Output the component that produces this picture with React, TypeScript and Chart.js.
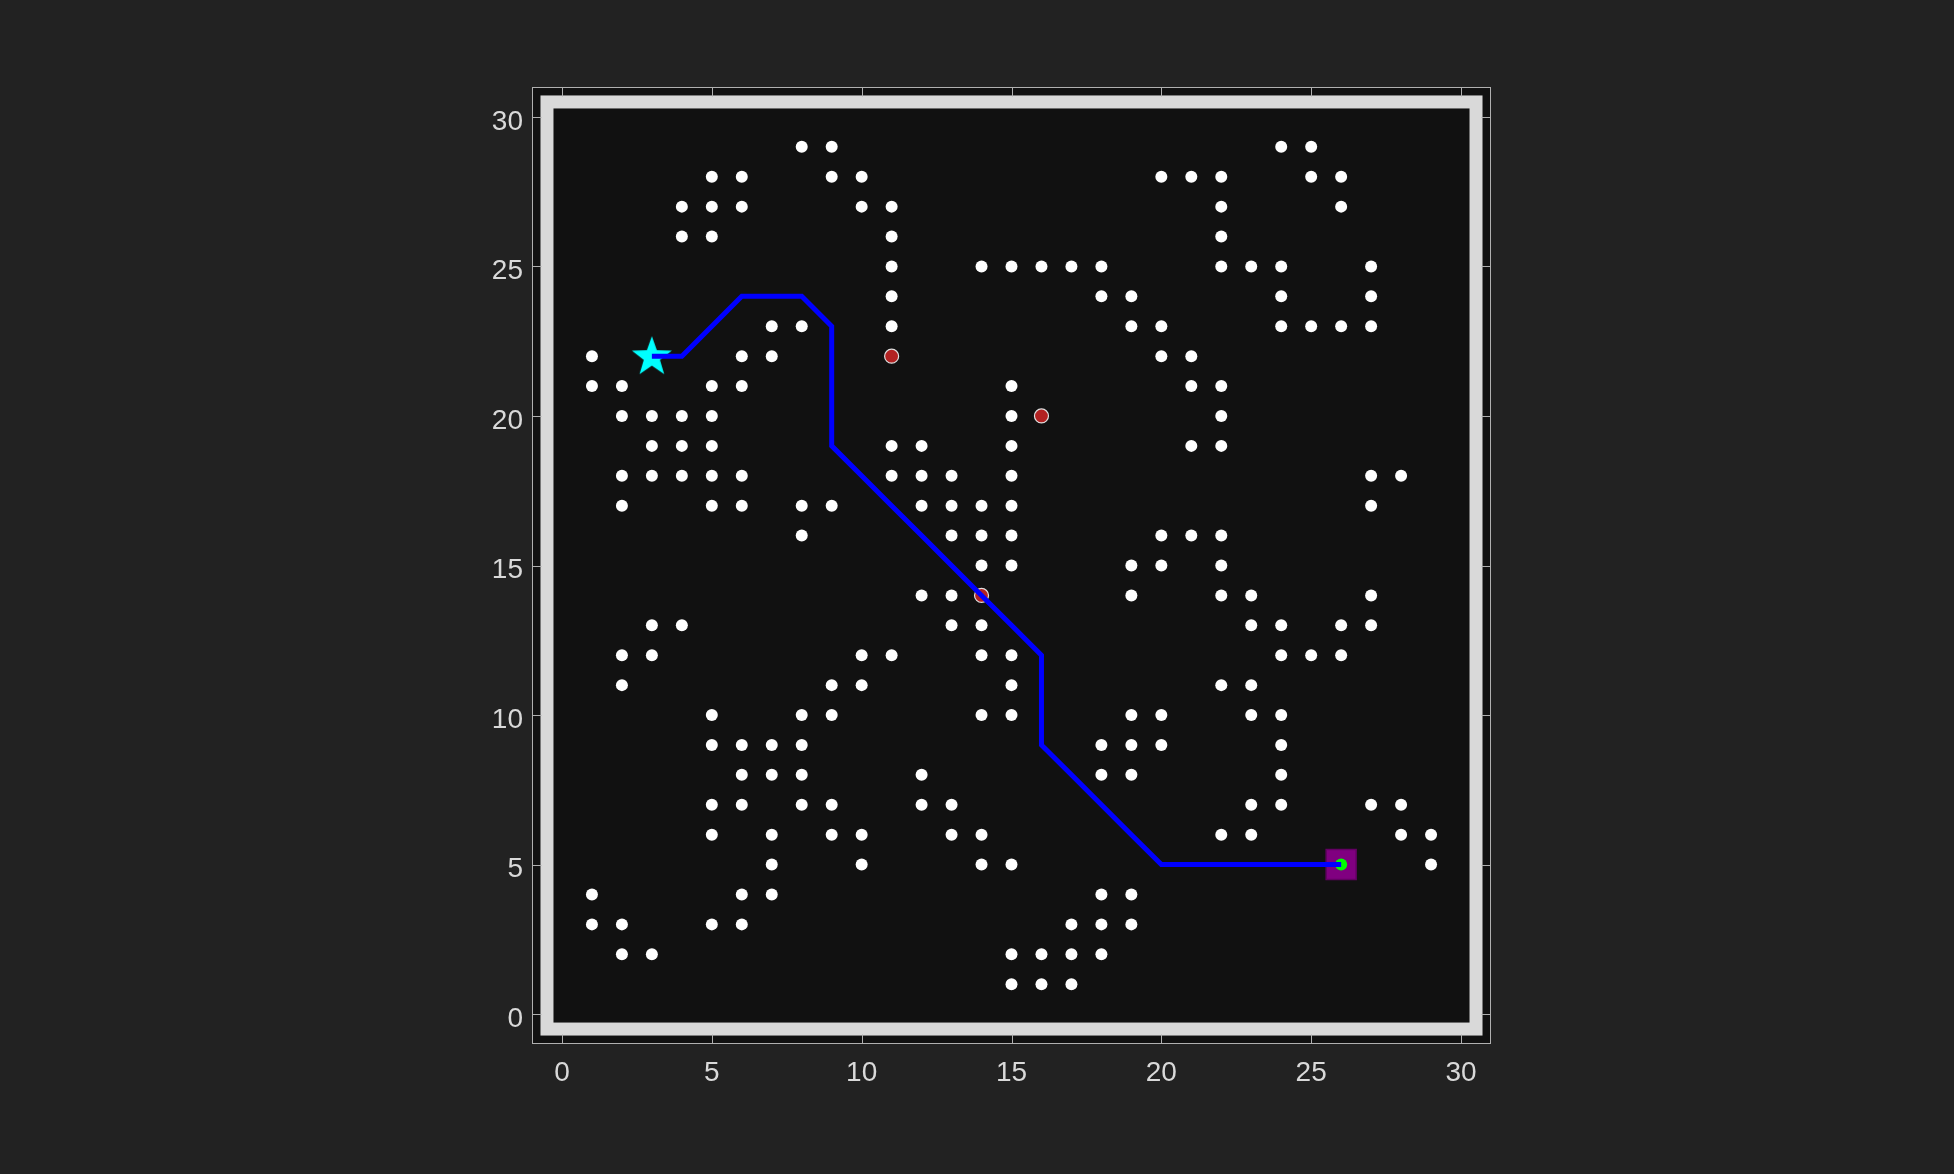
import React, { useEffect, useRef } from "react";
import { Chart, registerables } from "chart.js";

Chart.register(...registerables);

// ---- data ----
const X_TICKS = [0, 5, 10, 15, 20, 25, 30];
const Y_TICKS = [0, 5, 10, 15, 20, 25, 30];
const AXIS_MIN = -1;
const AXIS_MAX = 31;
const FRAME_MIN = -0.5;
const FRAME_MAX = 30.5;

// obstacle x positions, row index = y
const OBSTACLE_ROWS: number[][] = [
  [], // 0
  [15, 16, 17], // 1
  [2, 3, 15, 16, 17, 18], // 2
  [1, 2, 5, 6, 17, 18, 19], // 3
  [1, 6, 7, 18, 19], // 4
  [7, 10, 14, 15, 29], // 5
  [5, 7, 9, 10, 13, 14, 22, 23, 28, 29], // 6
  [5, 6, 8, 9, 12, 13, 23, 24, 27, 28], // 7
  [6, 7, 8, 12, 18, 19, 24], // 8
  [5, 6, 7, 8, 18, 19, 20, 24], // 9
  [5, 8, 9, 14, 15, 19, 20, 23, 24], // 10
  [2, 9, 10, 15, 22, 23], // 11
  [2, 3, 10, 11, 14, 15, 24, 25, 26], // 12
  [3, 4, 13, 14, 23, 24, 26, 27], // 13
  [12, 13, 19, 22, 23, 27], // 14
  [14, 15, 19, 20, 22], // 15
  [8, 13, 14, 15, 20, 21, 22], // 16
  [2, 5, 6, 8, 9, 12, 13, 14, 15, 27], // 17
  [2, 3, 4, 5, 6, 11, 12, 13, 15, 27, 28], // 18
  [3, 4, 5, 11, 12, 15, 21, 22], // 19
  [2, 3, 4, 5, 15, 22], // 20
  [1, 2, 5, 6, 15, 21, 22], // 21
  [1, 6, 7, 20, 21], // 22
  [7, 8, 11, 19, 20, 24, 25, 26, 27], // 23
  [11, 18, 19, 24, 27], // 24
  [11, 14, 15, 16, 17, 18, 22, 23, 24, 27], // 25
  [4, 5, 11, 22], // 26
  [4, 5, 6, 10, 11, 22, 26], // 27
  [5, 6, 9, 10, 20, 21, 22, 25, 26], // 28
  [8, 9, 24, 25], // 29
];

const HAZARD_X = [11, 16, 14];
const HAZARD_Y = [22, 20, 14];

const START_X = 3;
const START_Y = 22;
const GOAL_X = 26;
const GOAL_Y = 5;

const PATH_X = [3, 4, 5, 6, 7, 8, 9, 9, 9, 9, 9, 10, 11, 12, 13, 14, 15, 16, 16, 16, 16, 17, 18, 19, 20, 21, 22, 23, 24, 25, 26];
const PATH_Y = [22, 22, 23, 24, 24, 24, 23, 22, 21, 20, 19, 18, 17, 16, 15, 14, 13, 12, 11, 10, 9, 8, 7, 6, 5, 5, 5, 5, 5, 5, 5];

function makeStar(outer: number, inner: number, color: string): HTMLCanvasElement {
  const c = document.createElement("canvas");
  const s = Math.ceil(outer * 2 + 2);
  c.width = s;
  c.height = s;
  const g = c.getContext("2d")!;
  g.fillStyle = color;
  g.beginPath();
  for (let i = 0; i < 10; i++) {
    const r = i % 2 === 0 ? outer : inner;
    const a = -Math.PI / 2 + (i * Math.PI) / 5;
    const px = s / 2 + r * Math.cos(a);
    const py = s / 2 + 1 + r * Math.sin(a);
    if (i === 0) g.moveTo(px, py);
    else g.lineTo(px, py);
  }
  g.closePath();
  g.fill();
  return c;
}

const framePlugin = {
  id: "gridFrame",
  beforeDraw(chart: any) {
    const { ctx, chartArea: a, width, height } = chart;
    ctx.save();
    ctx.fillStyle = "#222222";
    ctx.fillRect(0, 0, width, height);
    ctx.fillStyle = "#111111";
    ctx.fillRect(a.left, a.top, a.right - a.left, a.bottom - a.top);
    ctx.restore();
  },
  beforeDatasetsDraw(chart: any) {
    const { ctx } = chart;
    const xs = chart.scales.x;
    const ys = chart.scales.y;
    const l = xs.getPixelForValue(FRAME_MIN);
    const r = xs.getPixelForValue(FRAME_MAX);
    const t = ys.getPixelForValue(FRAME_MAX);
    const b = ys.getPixelForValue(FRAME_MIN);
    ctx.save();
    ctx.strokeStyle = "#d9d9d9";
    ctx.lineWidth = 13;
    ctx.lineJoin = "miter";
    ctx.strokeRect(l, t, r - l, b - t);
    ctx.restore();
  },
  afterDraw(chart: any) {
    const { ctx, chartArea: a } = chart;
    const xs = chart.scales.x;
    const ys = chart.scales.y;
    const L = Math.round(a.left) + 0.5;
    const R = Math.round(a.right) - 0.5;
    const T = Math.round(a.top) + 0.5;
    const B = Math.round(a.bottom) - 0.5;
    const tl = 9;
    ctx.save();
    ctx.strokeStyle = "#b0b0b0";
    ctx.lineWidth = 1;
    ctx.strokeRect(L, T, R - L, B - T);
    ctx.beginPath();
    for (const v of X_TICKS) {
      const px = Math.round(xs.getPixelForValue(v)) + 0.5;
      ctx.moveTo(px, B);
      ctx.lineTo(px, B - tl);
      ctx.moveTo(px, T);
      ctx.lineTo(px, T + tl);
    }
    for (const v of Y_TICKS) {
      const py = Math.round(ys.getPixelForValue(v)) + 0.5;
      ctx.moveTo(L, py);
      ctx.lineTo(L + tl, py);
      ctx.moveTo(R, py);
      ctx.lineTo(R - tl, py);
    }
    ctx.stroke();
    ctx.restore();
  },
};

export default function App() {
  const ref = useRef<HTMLCanvasElement | null>(null);

  useEffect(() => {
    if (!ref.current) return;
    const obstacles = OBSTACLE_ROWS.flatMap((row, y) => row.map((x) => ({ x, y })));
    const hazards = HAZARD_X.map((x, i) => ({ x, y: HAZARD_Y[i] }));
    const path = PATH_X.map((x, i) => ({ x, y: PATH_Y[i] }));
    const star = makeStar(21, 8.5, "#00ffff");

    const tickFont = { family: "'Liberation Sans', Arial, sans-serif", size: 28 };

    const chart = new Chart(ref.current, {
      type: "scatter",
      data: {
        datasets: [
          {
            label: "path",
            data: path,
            showLine: true,
            borderColor: "#0000ff",
            borderWidth: 5,
            pointRadius: 0,
            pointHoverRadius: 0,
            tension: 0,
            order: 0,
          } as any,
          {
            label: "goal",
            data: [{ x: GOAL_X, y: GOAL_Y }],
            backgroundColor: "#00ff00",
            borderWidth: 0,
            pointRadius: 6,
            pointHoverRadius: 6,
            order: 1,
          },
          {
            label: "goalCell",
            data: [{ x: GOAL_X, y: GOAL_Y }],
            pointStyle: "rect",
            backgroundColor: "#800080",
            borderColor: "#630063",
            borderWidth: 1.5,
            pointRadius: 21.2,
            pointHoverRadius: 21.2,
            order: 2,
          },
          {
            label: "start",
            data: [{ x: START_X, y: START_Y }],
            pointStyle: star,
            pointRadius: 21,
            order: 3,
          } as any,
          {
            label: "hazards",
            data: hazards,
            backgroundColor: "#b22222",
            borderColor: "#e0e0e0",
            borderWidth: 1.2,
            pointRadius: 7,
            pointHoverRadius: 7,
            order: 4,
          },
          {
            label: "obstacles",
            data: obstacles,
            backgroundColor: "#ffffff",
            borderWidth: 0,
            pointRadius: 6,
            pointHoverRadius: 6,
            order: 5,
          },
        ],
      },
      options: {
        animation: false,
        responsive: false,
        maintainAspectRatio: false,
        events: [],
        layout: { padding: { left: 472, right: 463, top: 87, bottom: 70 } },
        plugins: { legend: { display: false }, tooltip: { enabled: false } },
        scales: {
          x: {
            type: "linear",
            min: AXIS_MIN,
            max: AXIS_MAX,
            afterBuildTicks: (s: any) => {
              s.ticks = X_TICKS.map((v) => ({ value: v }));
            },
            afterFit: (s: any) => {
              s.height = 60;
            },
            grid: { display: false, drawTicks: false },
            border: { display: false },
            ticks: { color: "#d9d9d9", font: tickFont, padding: 12, maxRotation: 0, autoSkip: false },
          },
          y: {
            type: "linear",
            min: AXIS_MIN,
            max: AXIS_MAX,
            afterBuildTicks: (s: any) => {
              s.ticks = Y_TICKS.map((v) => ({ value: v }));
            },
            afterFit: (s: any) => {
              s.width = 60;
            },
            grid: { display: false, drawTicks: false },
            border: { display: false },
            ticks: { color: "#d9d9d9", font: tickFont, padding: 9, labelOffset: 5, autoSkip: false },
          },
        },
      } as any,
      plugins: [framePlugin],
    });
    return () => chart.destroy();
  }, []);

  return (
    <div style={{ position: "fixed", left: 0, top: 0, width: 1954, height: 1174, background: "#222222" }}>
      <canvas ref={ref} width={1954} height={1174} style={{ display: "block", width: 1954, height: 1174 }} />
    </div>
  );
}
